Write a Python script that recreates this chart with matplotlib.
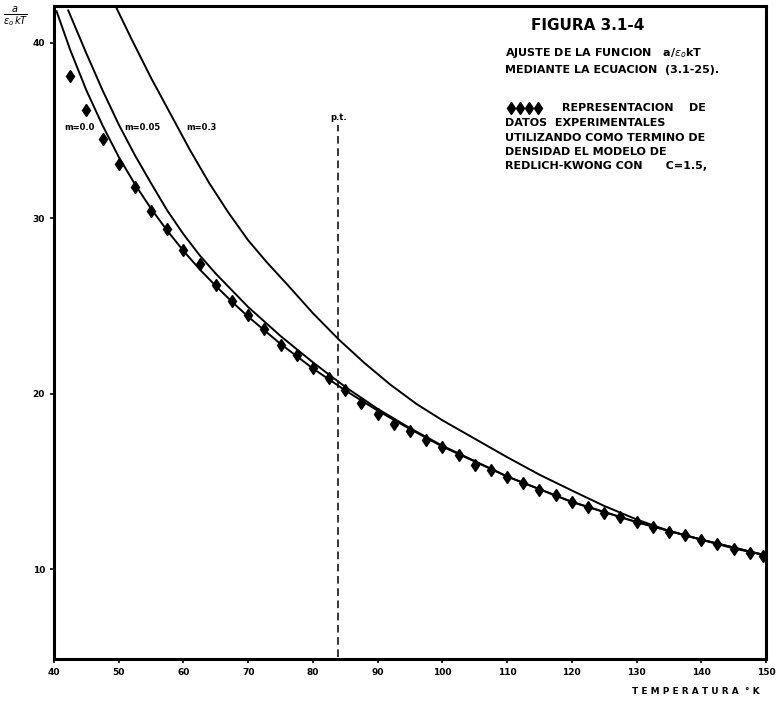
#!/usr/bin/env python3
"""Figura 3.1-4: ajuste de a/(eps_o kT) frente a la temperatura."""

import matplotlib

matplotlib.use("Agg")

import matplotlib.pyplot as plt

# datos experimentales (rombos)
T_EXP = [42.5, 45, 47.5, 50, 52.5, 55, 57.5, 60, 62.5, 65, 67.5, 70, 72.5, 75, 77.5,
         80, 82.5, 85, 87.5, 90, 92.5, 95, 97.5, 100, 102.5, 105, 107.5, 110, 112.5,
         115, 117.5, 120, 122.5, 125, 127.5, 130, 132.5, 135, 137.5, 140, 142.5, 145,
         147.5, 149.5]
V_EXP = [38.1, 36.2, 34.5, 33.1, 31.8, 30.4, 29.4, 28.2, 27.4, 26.2, 25.3, 24.5, 23.7,
         22.8, 22.2, 21.5, 20.9, 20.2, 19.5, 18.85, 18.3, 17.9, 17.4, 16.95, 16.5, 15.95,
         15.65, 15.25, 14.9, 14.55, 14.27, 13.85, 13.58, 13.2, 12.97, 12.73, 12.4, 12.12,
         11.97, 11.69, 11.46, 11.18, 10.93, 10.75]

# curvas calculadas
T_M00 = [40.4, 42.5, 45, 47.5, 50, 52.5, 55, 57.5, 60, 62.5, 65, 67.5, 70, 75, 80, 85,
         90, 95, 100, 110, 120, 130, 140, 150]
V_M00 = [41.8, 39.6, 37.3, 35.3, 33.5, 31.95, 30.55, 29.3, 28.15, 27.1, 26.15, 25.25,
         24.4, 22.85, 21.45, 20.2, 19.05, 18.0, 17.0, 15.3, 13.85, 12.7, 11.7, 10.8]

T_M005 = [42.2, 45, 47.5, 50, 52.5, 55, 57.5, 60, 62.5, 65, 70, 75, 80, 85, 90, 95, 100,
          110, 120, 130, 140, 150]
V_M005 = [41.85, 39.4, 37.3, 35.35, 33.6, 32.0, 30.45, 29.1, 27.9, 26.85, 24.95, 23.3,
          21.8, 20.4, 19.15, 18.05, 17.05, 15.3, 13.85, 12.7, 11.7, 10.8]

T_M03 = [49.7, 52, 55, 58, 61, 64, 67, 70, 73, 76, 80, 84, 88, 92, 96, 100, 105, 110,
         115, 120, 125, 130, 135, 140, 145, 150]
V_M03 = [41.95, 40.2, 38.0, 35.95, 33.9, 32.0, 30.3, 28.75, 27.45, 26.25, 24.6, 23.1,
         21.75, 20.52, 19.43, 18.5, 17.45, 16.4, 15.4, 14.5, 13.62, 12.85, 12.2, 11.7,
         11.2, 10.8]

T_PT = 83.9
X_TICKS = [40, 50, 60, 70, 80, 90, 100, 110, 120, 130, 140, 150]
Y_TICKS = [10, 20, 30, 40]

LEGEND_LINES = [
    "AJUSTE DE LA FUNCION   a/$\\epsilon_o$kT",
    "MEDIANTE LA ECUACION  (3.1-25).",
    None,
    "REPRESENTACION    DE",
    "DATOS  EXPERIMENTALES",
    "UTILIZANDO COMO TERMINO DE",
    "DENSIDAD EL MODELO DE",
    "REDLICH-KWONG CON      C=1.5,",
]


def ax_frac(px, py):
    return (px - 54) / 712, (659 - py) / 653


fig = plt.figure(figsize=(7.76, 7.01), dpi=100)
ax = fig.add_axes([54 / 776, 42 / 701, 712 / 776, 653 / 701])

ax.plot(T_M00, V_M00, color="black", lw=1.4)
ax.plot(T_M005, V_M005, color="black", lw=1.4)
ax.plot(T_M03, V_M03, color="black", lw=1.4)
ax.plot(T_EXP, V_EXP, ls="none", marker="d", ms=6, color="black")
ax.plot([T_PT, T_PT], [5, 35.3], color="black", lw=1.1, ls=(0, (5, 3)))

ax.set_xlim(40, 150)
ax.set_ylim(4.9, 42.1)
ax.set_xticks(X_TICKS)
ax.set_yticks(Y_TICKS)
ax.tick_params(direction="out", length=3, width=1.2, labelsize=6.5)
for lab in ax.get_xticklabels() + ax.get_yticklabels():
    lab.set_fontweight("bold")
for s in ax.spines.values():
    s.set_linewidth(2.2)

kw = dict(transform=ax.transAxes, fontweight="bold", fontsize=6, va="center")
ax.text(*ax_frac(64, 127), "m=0.0", **kw)
ax.text(*ax_frac(124, 127), "m=0.05", **kw)
ax.text(*ax_frac(186, 127), "m=0.3", **kw)
ax.text(*ax_frac(330, 118), "p.t.", **kw)

ax.text(*ax_frac(531, 25), "FIGURA 3.1-4", transform=ax.transAxes, fontweight="bold",
        fontsize=11, va="center")
kw["fontsize"] = 8
rows_y = [53, 70, None, 108, 123, 138, 152, 166]
for txt, y in zip(LEGEND_LINES, rows_y):
    if txt is None:
        continue
    x = 562 if txt.startswith("REPRESENTACION") else 505
    ax.text(*ax_frac(x, y), txt, **kw)
ax.plot([ax_frac(511 + 9 * i, 108)[0] for i in range(4)], [ax_frac(0, 108)[1]] * 4,
        transform=ax.transAxes, ls="none", marker="d", ms=6, color="black")

fig.text(16 / 776, 1 - 17 / 701, r"$\frac{a}{\epsilon_o\,kT}$", fontsize=10,
         ha="center", va="center", fontweight="bold")
fig.text(760 / 776, 1 - 692 / 701, "T E M P E R A T U R A  ° K", fontsize=6.5,
         fontweight="bold", ha="right", va="center")

fig.savefig("out.png", dpi=100)
